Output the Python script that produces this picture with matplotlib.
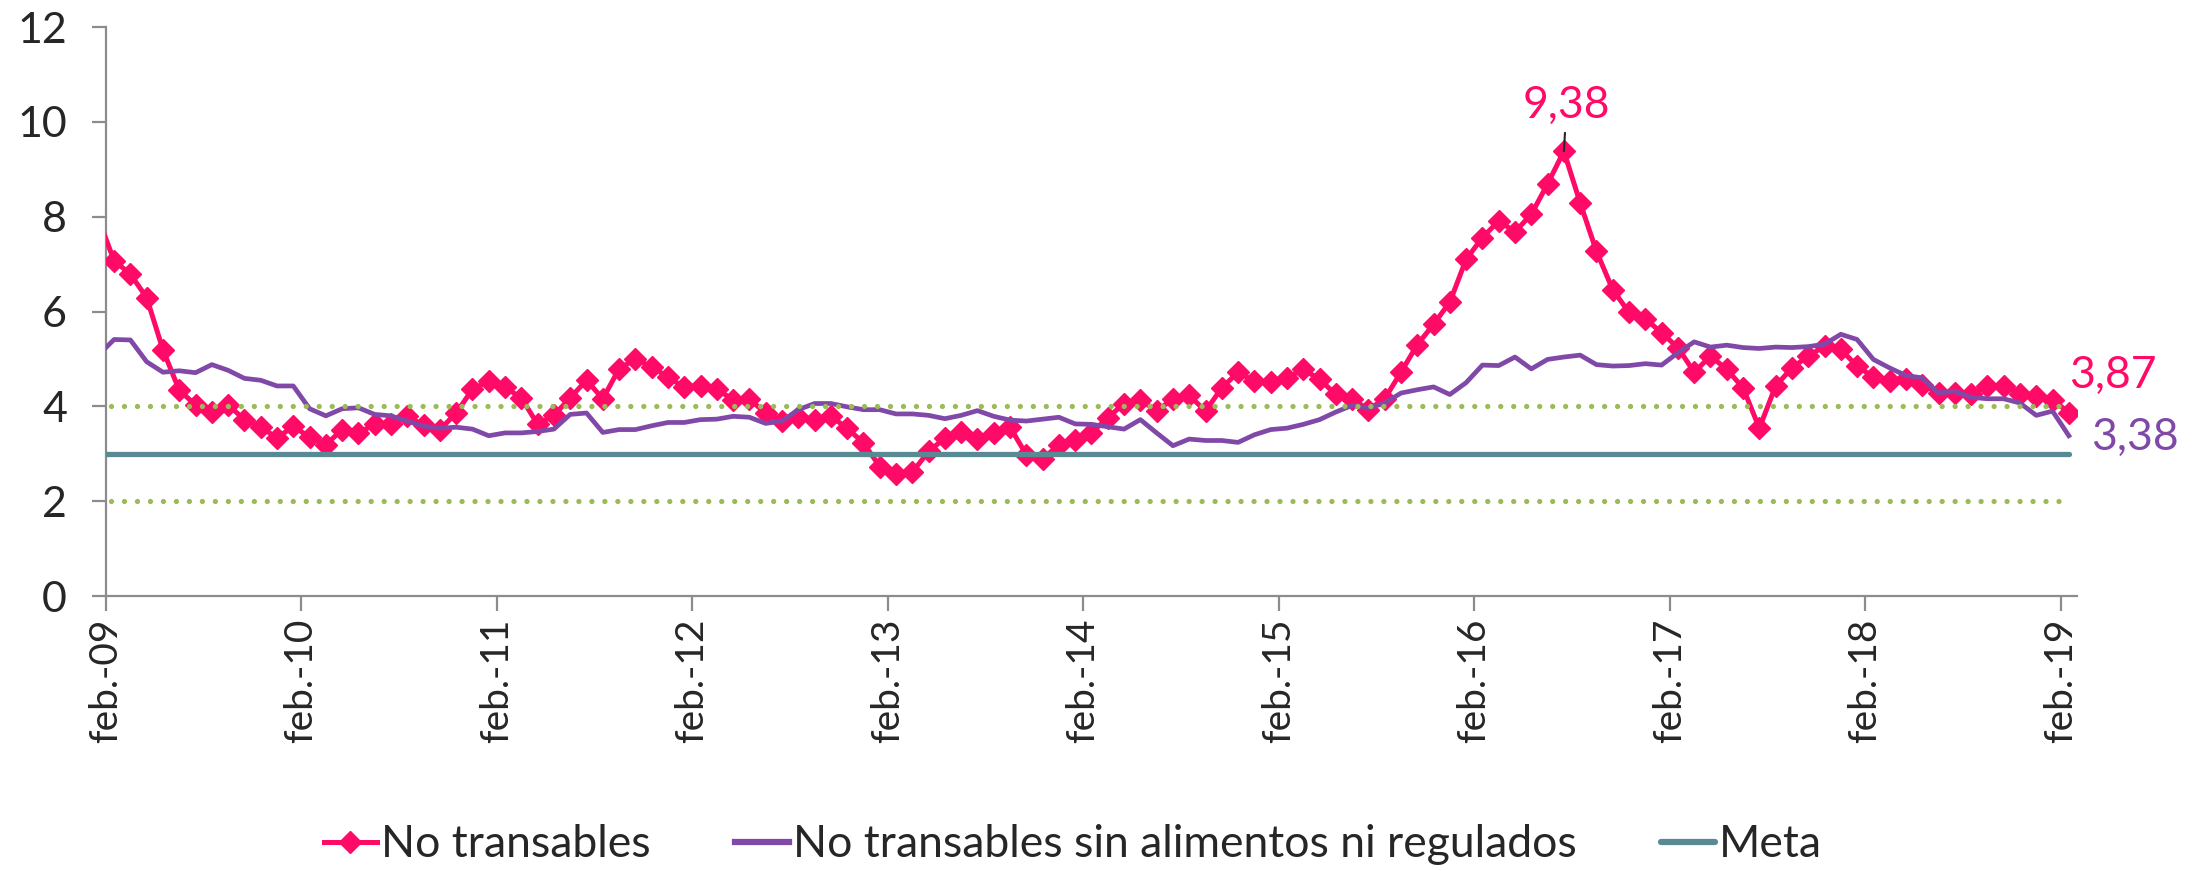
import matplotlib
matplotlib.use('Agg')
import matplotlib.pyplot as plt
from matplotlib.lines import Line2D

# monthly series, ene.-09 .. feb.-19 (first value sits just left of the axis)
no_transables = [
    7.99,
    7.07, 6.79, 6.29, 5.19, 4.34, 4.03, 3.88, 4.03, 3.72, 3.57, 3.33, 3.58, 3.35, 3.19, 3.51, 3.44, 3.62, 3.62, 3.79, 3.60,
    3.51, 3.86, 4.36, 4.53, 4.40, 4.18, 3.62, 3.81, 4.18, 4.55, 4.16, 4.79, 5.00, 4.83, 4.62, 4.40, 4.43, 4.36, 4.14, 4.15,
    3.86, 3.69, 3.78, 3.71, 3.79, 3.54, 3.23, 2.73, 2.58, 2.61, 3.05, 3.33, 3.45, 3.31, 3.44, 3.56, 2.98, 2.89, 3.19, 3.28,
    3.44, 3.76, 4.06, 4.14, 3.90, 4.16, 4.23, 3.90, 4.39, 4.72, 4.53, 4.51, 4.60, 4.78, 4.57, 4.25, 4.16, 3.93, 4.16, 4.72,
    5.30, 5.73, 6.20, 7.10, 7.56, 7.91, 7.68, 8.05, 8.69, 9.38, 8.29, 7.27, 6.46, 5.98, 5.85, 5.55, 5.24, 4.72, 5.06, 4.78,
    4.39, 3.54, 4.43, 4.81, 5.06, 5.27, 5.20, 4.85, 4.62, 4.53, 4.57, 4.46, 4.28, 4.28, 4.25, 4.43, 4.43, 4.27, 4.21, 4.14, 3.87,
]
sin_alim_reg = [
    5.07,
    5.41, 5.40, 4.94, 4.72, 4.75, 4.71, 4.88, 4.76, 4.59, 4.55, 4.43, 4.43, 3.95, 3.80, 3.95, 3.97, 3.83, 3.80, 3.69, 3.58,
    3.54, 3.56, 3.52, 3.38, 3.44, 3.44, 3.47, 3.52, 3.83, 3.86, 3.45, 3.51, 3.51, 3.59, 3.66, 3.66, 3.72, 3.73, 3.79, 3.77,
    3.64, 3.69, 3.93, 4.06, 4.06, 3.99, 3.93, 3.93, 3.84, 3.84, 3.81, 3.74, 3.81, 3.91, 3.79, 3.71, 3.69, 3.73, 3.77, 3.63,
    3.62, 3.57, 3.52, 3.72, 3.44, 3.17, 3.31, 3.28, 3.28, 3.24, 3.40, 3.51, 3.54, 3.62, 3.72, 3.88, 4.02, 3.96, 4.07, 4.28,
    4.35, 4.41, 4.25, 4.50, 4.87, 4.86, 5.04, 4.79, 4.99, 5.04, 5.08, 4.88, 4.85, 4.86, 4.90, 4.87, 5.13, 5.36, 5.25, 5.29,
    5.24, 5.22, 5.25, 5.24, 5.26, 5.31, 5.52, 5.41, 4.99, 4.81, 4.65, 4.60, 4.28, 4.32, 4.19, 4.16, 4.16, 4.07, 3.81, 3.90, 3.38,
]
meta_value = 3.0
range_upper = 4.0
range_lower = 2.0

month_abbr = ['ene.', 'feb.', 'mar.', 'abr.', 'may.', 'jun.',
              'jul.', 'ago.', 'sep.', 'oct.', 'nov.', 'dic.']
months = []
for yy in range(9, 20):
    for m in month_abbr:
        months.append(f'{m}-{yy:02d}')
months = months[:len(no_transables)]

peak_label = '9,38'
last_labels = ['3,87', '3,38']

PINK = '#FF0A67'
PURPLE = '#8049A8'
TEAL = '#598A94'
GREEN = '#9BBB59'
GRAY = '#8C8C8C'
TXT = '#262626'

plt.rcParams['font.family'] = ['Lato', 'DejaVu Sans']


def main():
    x = list(range(len(months)))
    n = len(x)

    fig = plt.figure(figsize=(22.03, 8.71), dpi=100)
    ax = fig.add_axes([0.0481, 0.3157, 0.8947, 0.6533])

    ax.plot(x, no_transables, color=PINK, lw=3.6, marker='D', ms=11.5,
            mec=PINK, mfc=PINK, markevery=list(range(1, n)),
            zorder=3, solid_joinstyle='round')
    ax.plot(x, sin_alim_reg, color=PURPLE, lw=3.4, zorder=4, solid_joinstyle='round')
    ax.plot(x, [meta_value] * n, color=TEAL, lw=3.8, zorder=5, solid_capstyle='round')
    for v in (range_upper, range_lower):
        ax.plot(x, [v] * n, color=GREEN, lw=3.8, linestyle=(0, (0.01, 2.45)),
                dash_capstyle='round', zorder=6)

    ax.set_xlim(0.5, n - 0.5)
    ax.set_ylim(0, 12)
    ax.set_yticks(range(0, 13, 2))
    ax.set_yticklabels([str(v) for v in range(0, 13, 2)])

    feb_idx = [i for i, m in enumerate(months) if m.startswith('feb.')]
    ax.set_xticks([i - 0.5 for i in feb_idx])
    ax.set_xticklabels([months[i] for i in feb_idx], rotation=90, va='top', ha='center')

    for s in ('top', 'right'):
        ax.spines[s].set_visible(False)
    for s in ('left', 'bottom'):
        ax.spines[s].set_color(GRAY)
        ax.spines[s].set_linewidth(1.6)
    ax.tick_params(axis='y', length=10, width=1.6, color=GRAY, pad=18,
                   labelsize=31, labelcolor=TXT)
    ax.tick_params(axis='x', length=11, width=1.6, color=GRAY, pad=5,
                   labelsize=28, labelcolor=TXT)

    peak_i = max(range(n), key=lambda i: no_transables[i])
    ax.annotate(peak_label, xy=(peak_i, no_transables[peak_i]), xytext=(2, 33),
                textcoords='offset points', ha='center', va='center',
                fontsize=32, color=PINK,
                arrowprops=dict(arrowstyle='-', color=TXT, lw=1.5, shrinkA=3, shrinkB=0))
    ax.annotate(last_labels[0], xy=(n - 1, no_transables[-1]), xytext=(0, 27),
                textcoords='offset points', ha='left', va='center',
                fontsize=32, color=PINK, annotation_clip=False)
    ax.annotate(last_labels[1], xy=(n - 1, sin_alim_reg[-1]), xytext=(16, -1),
                textcoords='offset points', ha='left', va='center',
                fontsize=32, color=PURPLE, annotation_clip=False)

    handles = [
        Line2D([], [], color=PINK, lw=3.6, marker='D', ms=11.5, mec=PINK),
        Line2D([], [], color=PURPLE, lw=4.5),
        Line2D([], [], color=TEAL, lw=4.5, solid_capstyle='round'),
    ]
    labels = ['No transables', 'No transables sin alimentos ni regulados', 'Meta']
    fig.legend(handles, labels, loc='center', bbox_to_anchor=(0.487, 0.03), ncol=3,
               frameon=False, fontsize=32, handlelength=1.2, handletextpad=0.1,
               columnspacing=1.9, labelcolor=TXT)

    fig.savefig('out.png', dpi=100)


if __name__ == '__main__':
    main()
